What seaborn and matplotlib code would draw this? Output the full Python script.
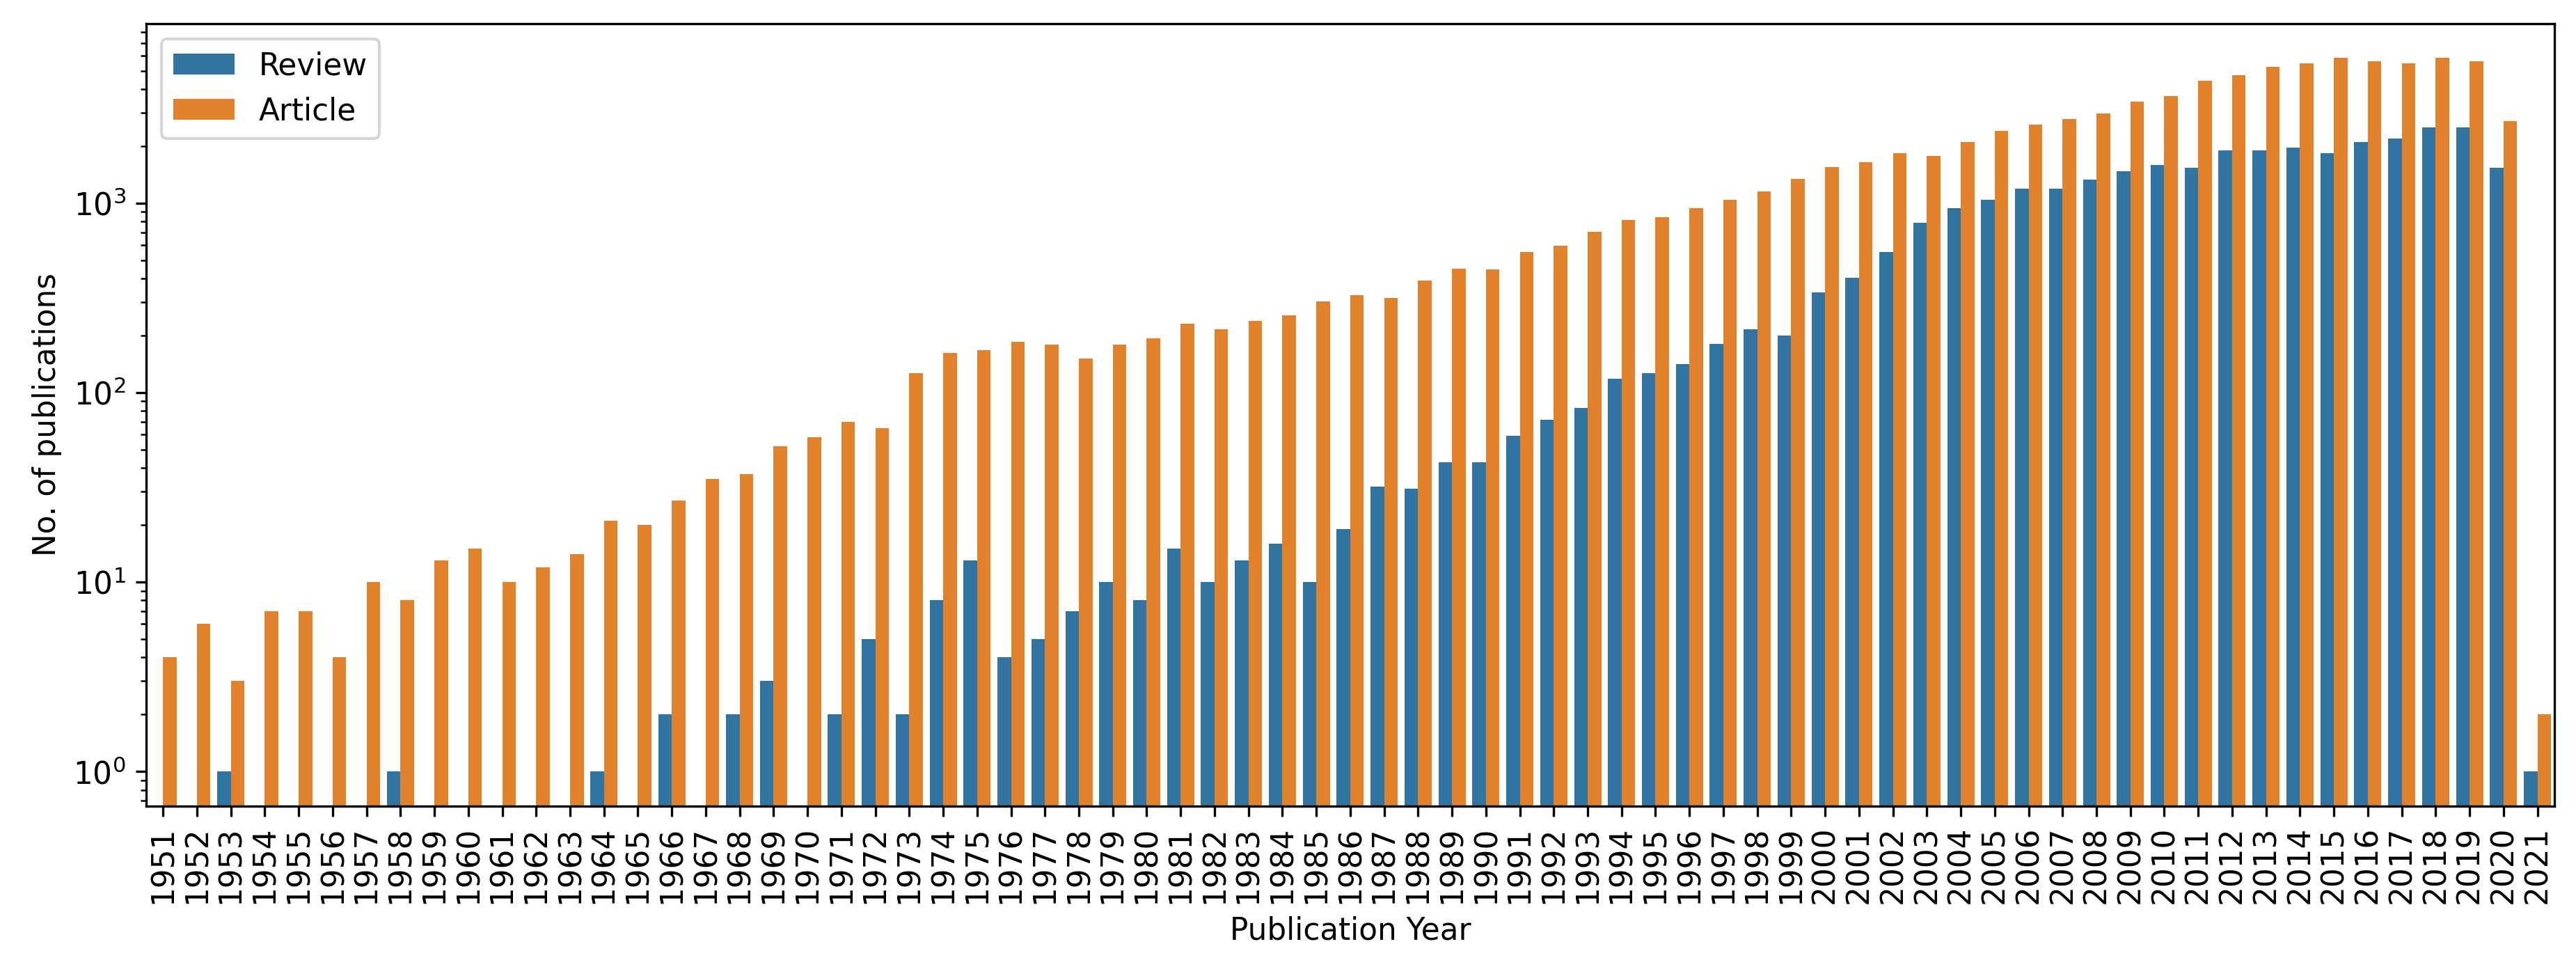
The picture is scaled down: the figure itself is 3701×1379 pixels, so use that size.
import pandas as pd
import numpy as np
import matplotlib
matplotlib.use("Agg")
import matplotlib.pyplot as plt
import seaborn as sns

# publication counts per year (None = no bar)
years = [str(y) for y in range(1951, 2022)]

review = [None, None, 1, None, None, None, None, 1, None, None,
          None, None, None, 1, None, 2, None, 2, 3, None,
          2, 5, 2, 8, 13, 4, 5, 7, 10, 8,
          15, 10, 13, 16, 10, 19, 32, 31, 43, 43,
          59, 72, 83, 118, 127, 141, 180, 215, 200, 337,
          404, 554, 785, 940, 1045, 1197, 1197, 1330, 1479, 1583,
          1535, 1896, 1896, 1967, 1837, 2105, 2186, 2506, 2506, 1535,
          1]

article = [4, 6, 3, 7, 7, 4, 10, 8, 13, 15,
           10, 12, 14, 21, 20, 27, 35, 37, 52, 58,
           70, 65, 127, 162, 167, 186, 179, 151, 179, 193,
           230, 215, 238, 255, 304, 327, 315, 389, 449, 445,
           554, 594, 706, 815, 846, 940, 1038, 1153, 1339, 1544,
           1643, 1837, 1771, 2105, 2414, 2600, 2786, 2980, 3438, 3682,
           4409, 4720, 5245, 5445, 5826, 5614, 5445, 5826, 5614, 2699,
           2]

doc_types = ["Review", "Article"]

df = pd.concat([
    pd.DataFrame({"Publication Year": years, "count": review, "Document Type": "Review"}),
    pd.DataFrame({"Publication Year": years, "count": article, "Document Type": "Article"}),
])
df = df.dropna(subset=["count"])

plt.rcParams["font.size"] = 10.5

fig, ax = plt.subplots(figsize=(3701 / 300, 1379 / 300), dpi=300)
sns.barplot(data=df, x="Publication Year", y="count", hue="Document Type",
            order=years, hue_order=doc_types, palette="tab10", ax=ax)
ax.set_yscale("log")
ax.set_ylim(0.658, 8850)
ax.set_xlim(-0.5, len(years) - 0.5)
ax.set_ylabel("No. of publications")
ax.set_xlabel("Publication Year")
plt.xticks(rotation=90)

handles, labels = ax.get_legend_handles_labels()
ax.legend(handles, labels, loc="upper left")

fig.subplots_adjust(left=0.0567, right=0.9916, top=0.9753, bottom=0.1605)
fig.savefig("out.png", dpi=300)
